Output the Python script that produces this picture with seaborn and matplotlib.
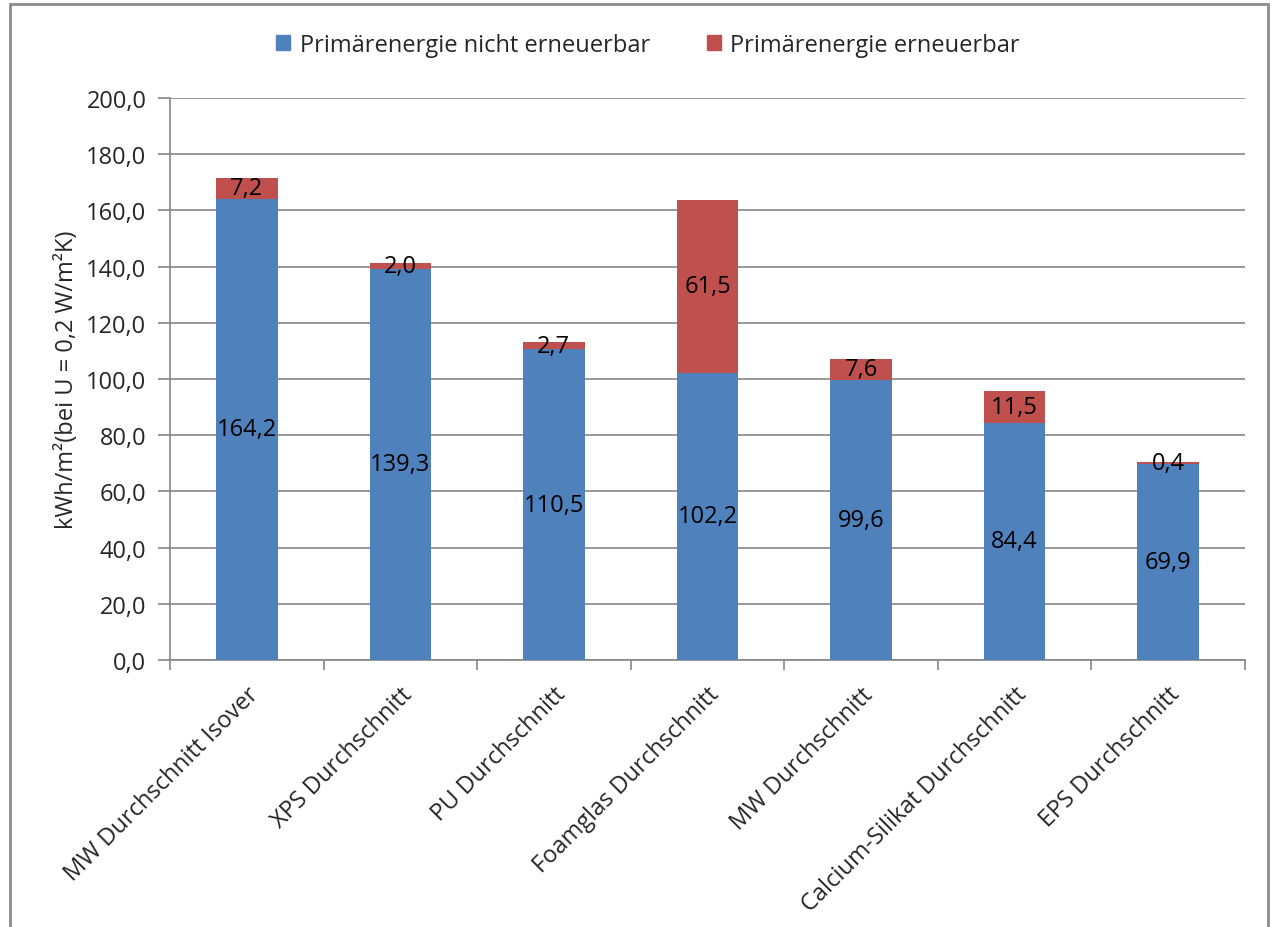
import matplotlib
matplotlib.use("Agg")
import matplotlib.pyplot as plt
import seaborn as sns
import pandas as pd
from matplotlib.patches import Patch, Rectangle

categories = ["MW Durchschnitt Isover", "XPS Durchschnitt", "PU Durchschnitt",
              "Foamglas Durchschnitt", "MW Durchschnitt", "Calcium-Silikat Durchschnitt",
              "EPS Durchschnitt"]
nicht_erneuerbar = [164.2, 139.3, 110.5, 102.2, 99.6, 84.4, 69.9]
erneuerbar = [7.2, 2.0, 2.7, 61.5, 7.6, 11.5, 0.4]
series_names = ["Primärenergie nicht erneuerbar", "Primärenergie erneuerbar"]
y_ticks = [0, 20, 40, 60, 80, 100, 120, 140, 160, 180, 200]
y_label = "kWh/m²(bei U = 0,2 W/m²K)"

BLUE = "#4F81BD"
RED = "#C0504D"
GRID = "#868686"
FS = 17

sns.set_theme(style="white")
plt.rcParams['font.family'] = ['Open Sans', 'DejaVu Sans']

df = pd.DataFrame({"cat": categories, "blue": nicht_erneuerbar,
                   "total": [a + b for a, b in zip(nicht_erneuerbar, erneuerbar)]})

fig = plt.figure(figsize=(12.73, 9.28), dpi=100)
ax = fig.add_axes([170/1273, 1 - 661/928, (1245-170)/1273, (661-99)/928])

sns.barplot(data=df, x="cat", y="total", color=RED, width=0.4, saturation=1, ax=ax,
            zorder=3, linewidth=0)
sns.barplot(data=df, x="cat", y="blue", color=BLUE, width=0.4, saturation=1, ax=ax,
            zorder=3, linewidth=0)

for i, (b, r) in enumerate(zip(nicht_erneuerbar, erneuerbar)):
    ax.text(i, b / 2, f"{b:.1f}".replace(".", ","), ha="center", va="center",
            fontsize=FS, color="black", zorder=5)
    ax.text(i, b + r / 2, f"{r:.1f}".replace(".", ","), ha="center", va="center",
            fontsize=FS, color="black", zorder=5)

ax.set_xlim(-0.5, len(categories) - 0.5)
ax.set_ylim(0, 200)
ax.set_yticks(y_ticks)
ax.set_yticklabels([f"{v:.1f}".replace(".", ",") for v in y_ticks], fontsize=FS)
ax.yaxis.grid(True, color=GRID, linewidth=1.2, zorder=0)
ax.set_axisbelow(True)

ax.set_xticks(range(len(categories)))
ax.set_xticklabels(categories, rotation=45, ha="right", rotation_mode="anchor", fontsize=FS)
ax.tick_params(axis="x", length=0, pad=16)
ax.set_xticks([i - 0.5 for i in range(len(categories) + 1)], minor=True)
ax.tick_params(axis="x", which="minor", length=7, width=1.2, color=GRID, direction="out", bottom=True)
ax.tick_params(axis="y", length=9, width=1.2, color=GRID, direction="out", left=True, pad=8)

for s in ["top", "right"]:
    ax.spines[s].set_visible(False)
for s in ["left", "bottom"]:
    ax.spines[s].set_color(GRID)
    ax.spines[s].set_linewidth(1.2)

ax.set_xlabel("")
ax.set_ylabel(y_label, fontsize=FS, labelpad=5)

handles = [Patch(facecolor=BLUE, edgecolor=BLUE), Patch(facecolor=RED, edgecolor=RED)]
fig.legend(handles, series_names, loc="center", bbox_to_anchor=(648/1273, 1 - 46/928),
           ncol=2, frameon=False, fontsize=FS, handlelength=0.6, handleheight=0.6,
           handletextpad=0.4, columnspacing=2.4)

fig.patches.append(Rectangle((10/1273, -0.01), (1268-10)/1273, 1 - 5/928 + 0.01,
                             transform=fig.transFigure, fill=False,
                             edgecolor="#8c8c8c", linewidth=2, zorder=10))

fig.savefig("out.png", dpi=100, facecolor="white")
